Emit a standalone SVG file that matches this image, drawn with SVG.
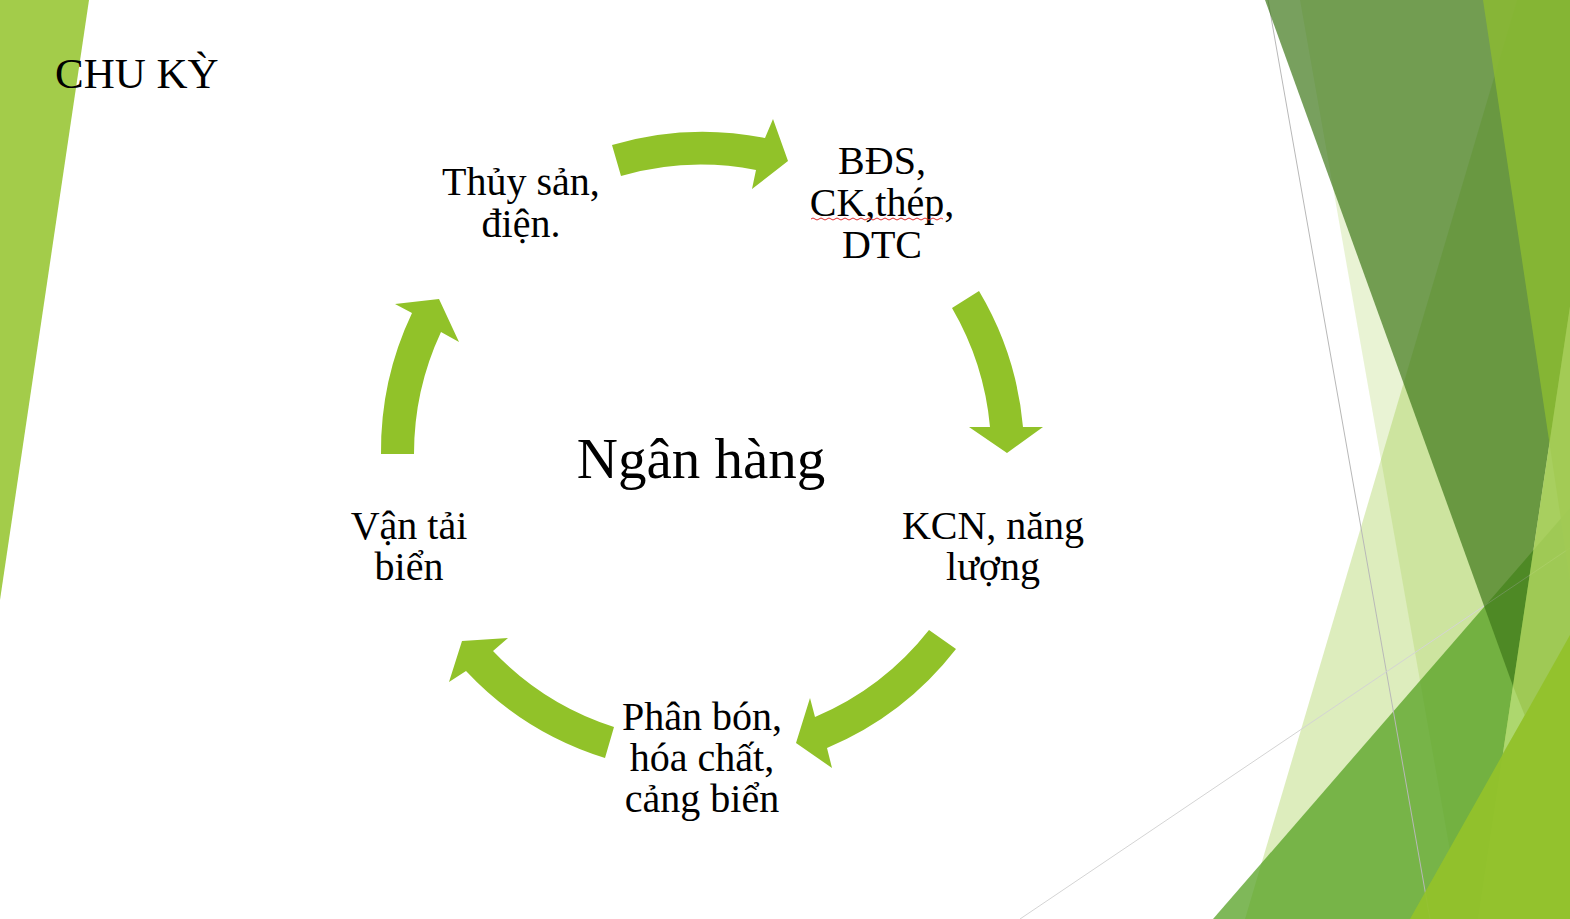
<svg xmlns="http://www.w3.org/2000/svg" width="1570" height="919" viewBox="0 0 1570 919">
<defs>
<style>
.lbl{font-family:"Liberation Serif","DejaVu Serif",serif;font-size:40px;fill:#000;text-anchor:middle}
.title{font-family:"Liberation Serif","DejaVu Serif",serif;font-size:43px;fill:#000}
.center{font-family:"Liberation Serif","DejaVu Serif",serif;font-size:57px;fill:#000;text-anchor:middle}
.arrow{fill:#91C229}
.thin{stroke-width:1;fill:none}
</style>
</defs>
<rect width="1570" height="919" fill="#FFFFFF"/>
<g id="decor">
<polygon points="0,0 89,0 0,600" fill="#A3CC4A"/>
<polygon points="1300,0 1570,0 1570,919 1462,919" fill="#90C226" opacity="0.2"/>
<polygon points="1517,0 1570,0 1570,919 1245,919" fill="#90C226" opacity="0.3"/>
<polygon points="1570,508 1570,919 1213,919" fill="#54A021" opacity="0.75"/>
<line x1="1268" y1="0" x2="1430" y2="919" stroke="#B8B8B8" class="thin"/>
<line x1="1020" y1="919" x2="1570" y2="548" stroke="#D4D4D4" class="thin"/>
<polygon points="1265,0 1616,0 1513,686" fill="#3F7819" opacity="0.7"/>
<polygon points="1483,0 1570,0 1570,580" fill="#8BBA33" opacity="0.85"/>
<polygon points="1571,300 1570,919 1478,919" fill="#A4CC58" opacity="0.9"/>
<polygon points="1513,686 1525,716 1503,753" fill="#ADD76E"/>
<polygon points="1410,919 1570,635 1570,919" fill="#92C22B" opacity="0.95"/>
</g>
<g id="title"><text class="title" x="55" y="88">CHU KỲ</text></g>
<g id="connectors">
<path class="arrow" d="M612,145 A321,321 0 0 1 765,138 L773,119 L788,161 L752,189 L756,170 A288,288 0 0 0 621,176 Z"/>
<path class="arrow" d="M979,291 A321,321 0 0 1 1023,427 L1043,427 L1007,453 L969,427 L990,427 A288,288 0 0 0 952,308 Z"/>
<path class="arrow" d="M956,649 A321,321 0 0 1 827,748 L832,768 L796,743 L810,698 L815,717 A288,288 0 0 0 929,630 Z"/>
<path class="arrow" d="M605,758 A321,321 0 0 1 466,671 L449,682 L462,641 L508,638 L493,651 A288,288 0 0 0 614,727 Z"/>
<path class="arrow" d="M381,454 A321,321 0 0 1 412,313 L395,304 L439,299 L459,342 L441,332 A288,288 0 0 0 414,454 Z"/>
</g>
<g id="node-center"><text class="center" x="701" y="478">Ngân hàng</text></g>
<g id="node-thuysan">
<text class="lbl" x="521" y="195">Thủy sản,</text>
<text class="lbl" x="521" y="237">điện.</text>
</g>
<g id="node-bds">
<text class="lbl" x="882" y="174">BĐS,</text>
<text class="lbl" x="882" y="216">CK,thép,</text>
<text class="lbl" x="882" y="258">DTC</text>
<path d="M811,219 q2,-2 4,0 t4,0 t4,0 t4,0 t4,0 t4,0 t4,0 t4,0 t4,0 t4,0 t4,0 t4,0 t4,0 t4,0 t4,0 t4,0 t4,0 t4,0 t4,0 t4,0 t4,0 t4,0 t4,0 t4,0 t4,0 t4,0 t4,0 t4,0 t4,0 t4,0 t4,0 t4,0 t4,0" fill="none" stroke="#E03030" stroke-width="1"/>
</g>
<g id="node-kcn">
<text class="lbl" x="993" y="539">KCN, năng</text>
<text class="lbl" x="993" y="580">lượng</text>
</g>
<g id="node-phanbon">
<text class="lbl" x="702" y="730">Phân bón,</text>
<text class="lbl" x="702" y="771">hóa chất,</text>
<text class="lbl" x="702" y="812">cảng biển</text>
</g>
<g id="node-vantai">
<text class="lbl" x="409" y="539">Vận tải</text>
<text class="lbl" x="409" y="580">biển</text>
</g>
</svg>
